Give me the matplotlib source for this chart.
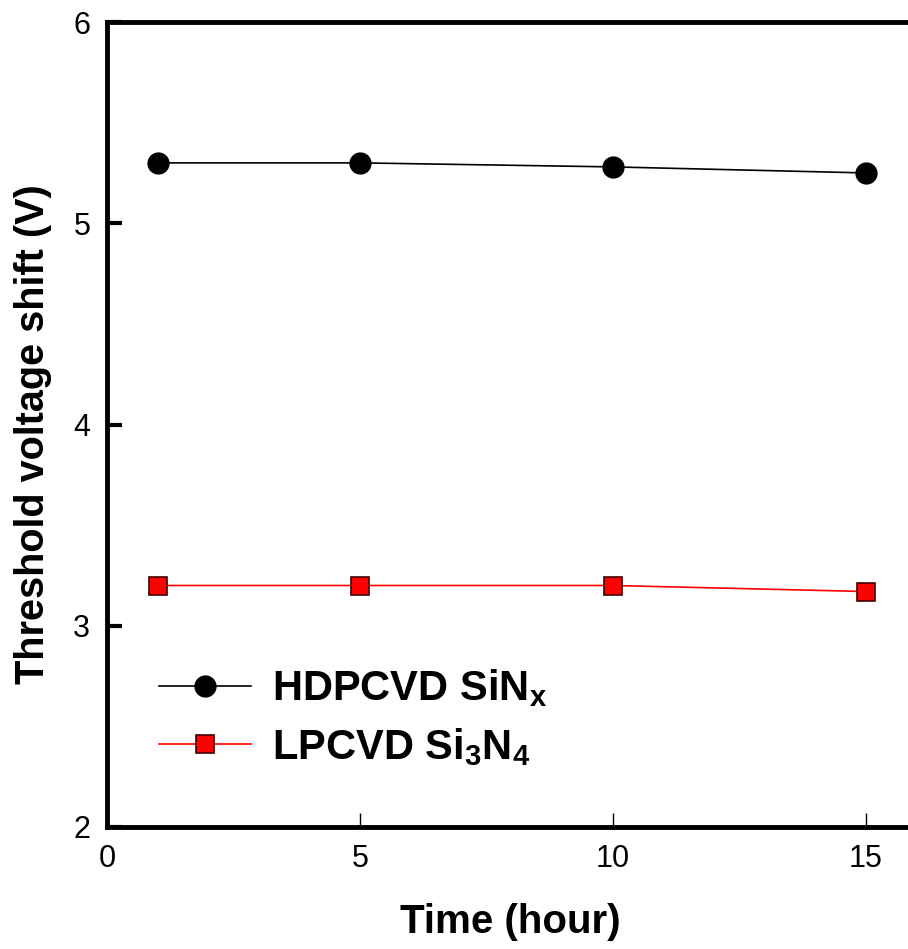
import matplotlib
matplotlib.use("Agg")
import matplotlib.pyplot as plt

plt.rcParams['font.family'] = ['Liberation Sans', 'DejaVu Sans']
plt.rcParams['mathtext.fontset'] = 'custom'
plt.rcParams['mathtext.rm'] = 'Liberation Sans:bold'
plt.rcParams['mathtext.it'] = 'Liberation Sans:bold'
plt.rcParams['mathtext.bf'] = 'Liberation Sans:bold'

time_h = [1, 5, 10, 15]
hdpcvd = [5.30, 5.30, 5.28, 5.25]
lpcvd = [3.20, 3.20, 3.20, 3.17]
x_ticks = [0, 5, 10, 15]
y_ticks = [2, 3, 4, 5, 6]

fig = plt.figure(figsize=(9.08, 9.49), dpi=100)
ax = fig.add_axes([107/908, 1-827/949, 16*50.6/908, (827-22)/949])

ax.plot(time_h, hdpcvd, color='black', lw=1.2, marker='o', ms=15,
        mfc='black', mec='black', label=r'HDPCVD SiN$_\mathregular{x}$')
ax.plot(time_h, lpcvd, color='red', lw=1.2, marker='s', ms=12.5,
        mfc='red', mec='#400000', mew=1.2, label=r'LPCVD Si$_\mathregular{3}$N$_\mathregular{4}$')

ax.set_xlim(0, 16)
ax.set_ylim(2, 6)
ax.set_xticks(x_ticks)
ax.set_yticks(y_ticks)
for s in ['left', 'bottom', 'top']:
    ax.spines[s].set_linewidth(3.5)
ax.spines['right'].set_visible(False)
ax.tick_params(axis='x', direction='in', length=10, width=1, labelsize=22, pad=12)
ax.tick_params(axis='y', direction='in', length=11, width=3, labelsize=22, pad=12)

ax.set_xlabel('Time (hour)', fontsize=29, fontweight='bold')
ax.xaxis.set_label_coords((510 - 107) / (16 * 50.6), -0.095)
ax.set_ylabel('Threshold voltage shift (V)', fontsize=28.5, fontweight='bold')
ax.yaxis.set_label_coords(-0.068, (827 - 434) / 805)

leg = ax.legend(loc='upper left', bbox_to_anchor=(0.018, 0.245), frameon=False,
                prop={'size': 30, 'weight': 'bold'}, handlelength=2.2,
                handletextpad=0.5, labelspacing=0.4)

fig.savefig('out.png', dpi=100)
